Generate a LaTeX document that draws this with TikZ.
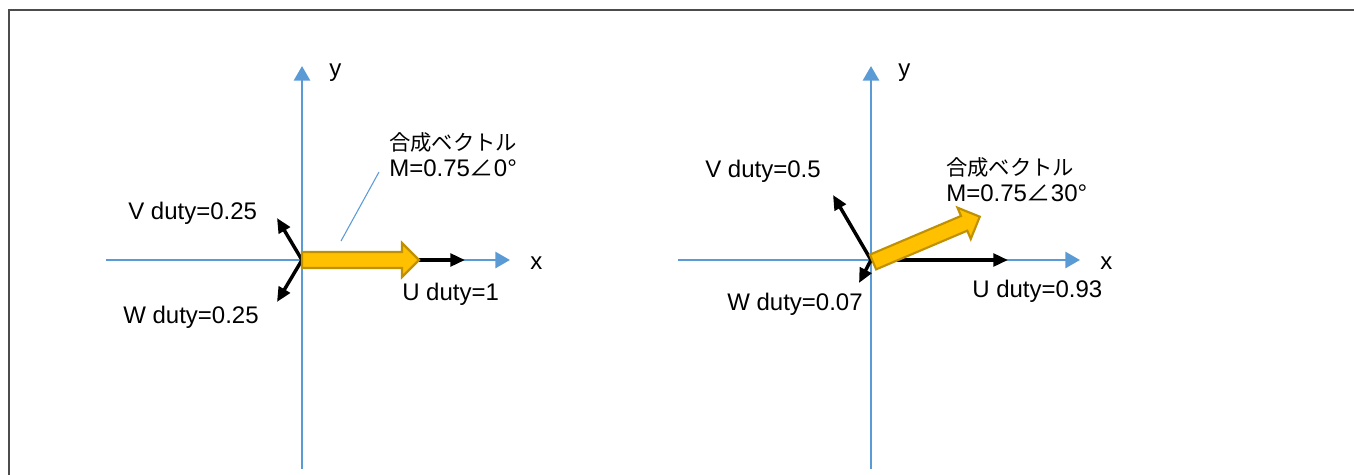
\documentclass[tikz,border=0pt]{standalone}
\usepackage{fontspec}
\setmainfont{Liberation Sans}
\newfontfamily\jp{Noto Sans CJK JP}
\usetikzlibrary{arrows.meta}
\definecolor{axisblue}{HTML}{5B9BD5}
\definecolor{vecgold}{HTML}{FFC000}
\definecolor{vecedge}{HTML}{BF9000}

\begin{document}
\begin{tikzpicture}[x=.75pt,y=-.75pt,font=\fontsize{18}{18}\selectfont,
  axis/.style={axisblue,line width=2.2pt,-{Triangle[length=11pt,width=12pt]}},
  duty/.style={line width=2.6pt,-{Triangle[length=11pt,width=9.5pt]}},
  fat/.style={fill=vecgold,draw=vecedge,line width=1.6pt,line join=miter},
  lbl/.style={anchor=base west,inner sep=0pt}]
\useasboundingbox (0,0) rectangle (1354,475);
\draw[gray!60!black,line width=1.1pt] (9,475)--(9,10)--(1354,10);
% left: angle 0
\coordinate (O1) at (302,260); \coordinate (XL1) at (106,260); \coordinate (XR1) at (510,260);
\coordinate (YB1) at (302,469); \coordinate (YT1) at (302,66);
\coordinate (U1) at (465,260); \coordinate (V1) at (277,218); \coordinate (W1) at (277,302);
\draw[axis] (XL1)--(XR1); \draw[axis] (YB1)--(YT1);
\node[lbl] (x1) at (530,269) {x}; \node[lbl] (y1) at (329,76) {y};
\draw[duty] (O1)--(U1); \draw[duty] (O1)--(V1); \draw[duty] (O1)--(W1);
\draw[fat,shift={(O1)}] (0,-8)--(100,-8)--(100,-17)--(117,0)--(100,17)--(100,8)--(0,8)--cycle;
\node[lbl] (u1) at (402,300) {U duty=1};
\node[lbl] (v1) at (128,219) {V duty=0.25};
\node[lbl] (w1) at (123,323) {W duty=0.25};
\node[inner sep=0pt,anchor=north west,align=left] (m1) at (389,132) {{\jp\fontsize{16}{18}\selectfont 合成ベクトル}\\[2pt]M=0.75{\jp ∠}0°};
\coordinate (P1) at (341,241); \coordinate (Q1) at (379,172);
\draw[axisblue,line width=.8pt] (P1)--(Q1);
% right: angle 30
\coordinate (O2) at (871,260); \coordinate (XL2) at (678,260); \coordinate (XR2) at (1080,260);
\coordinate (YB2) at (871,469); \coordinate (YT2) at (871,66);
\coordinate (U2) at (1008,260); \coordinate (V2) at (833,195); \coordinate (W2) at (859,283);
\draw[axis] (XL2)--(XR2); \draw[axis] (YB2)--(YT2);
\node[lbl] (x2) at (1100,269) {x}; \node[lbl] (y2) at (898,76) {y};
\draw[duty] (O2)--(U2); \draw[duty] (O2)--(V2); \draw[duty] (O2)--(W2);
\draw[fat,shift={(873,262)},rotate=23] (0,-8)--(99,-8)--(99,-17)--(116,0)--(99,17)--(99,8)--(0,8)--cycle;
\node[lbl] (u2) at (972,297) {U duty=0.93};
\node[lbl] (v2) at (705,177) {V duty=0.5};
\node[lbl] (w2) at (727,310) {W duty=0.07};
\node[inner sep=0pt,anchor=north west,align=left] (m2) at (946,157) {{\jp\fontsize{16}{18}\selectfont 合成ベクトル}\\[2pt]M=0.75{\jp ∠}30°};
\end{tikzpicture}
\end{document}
